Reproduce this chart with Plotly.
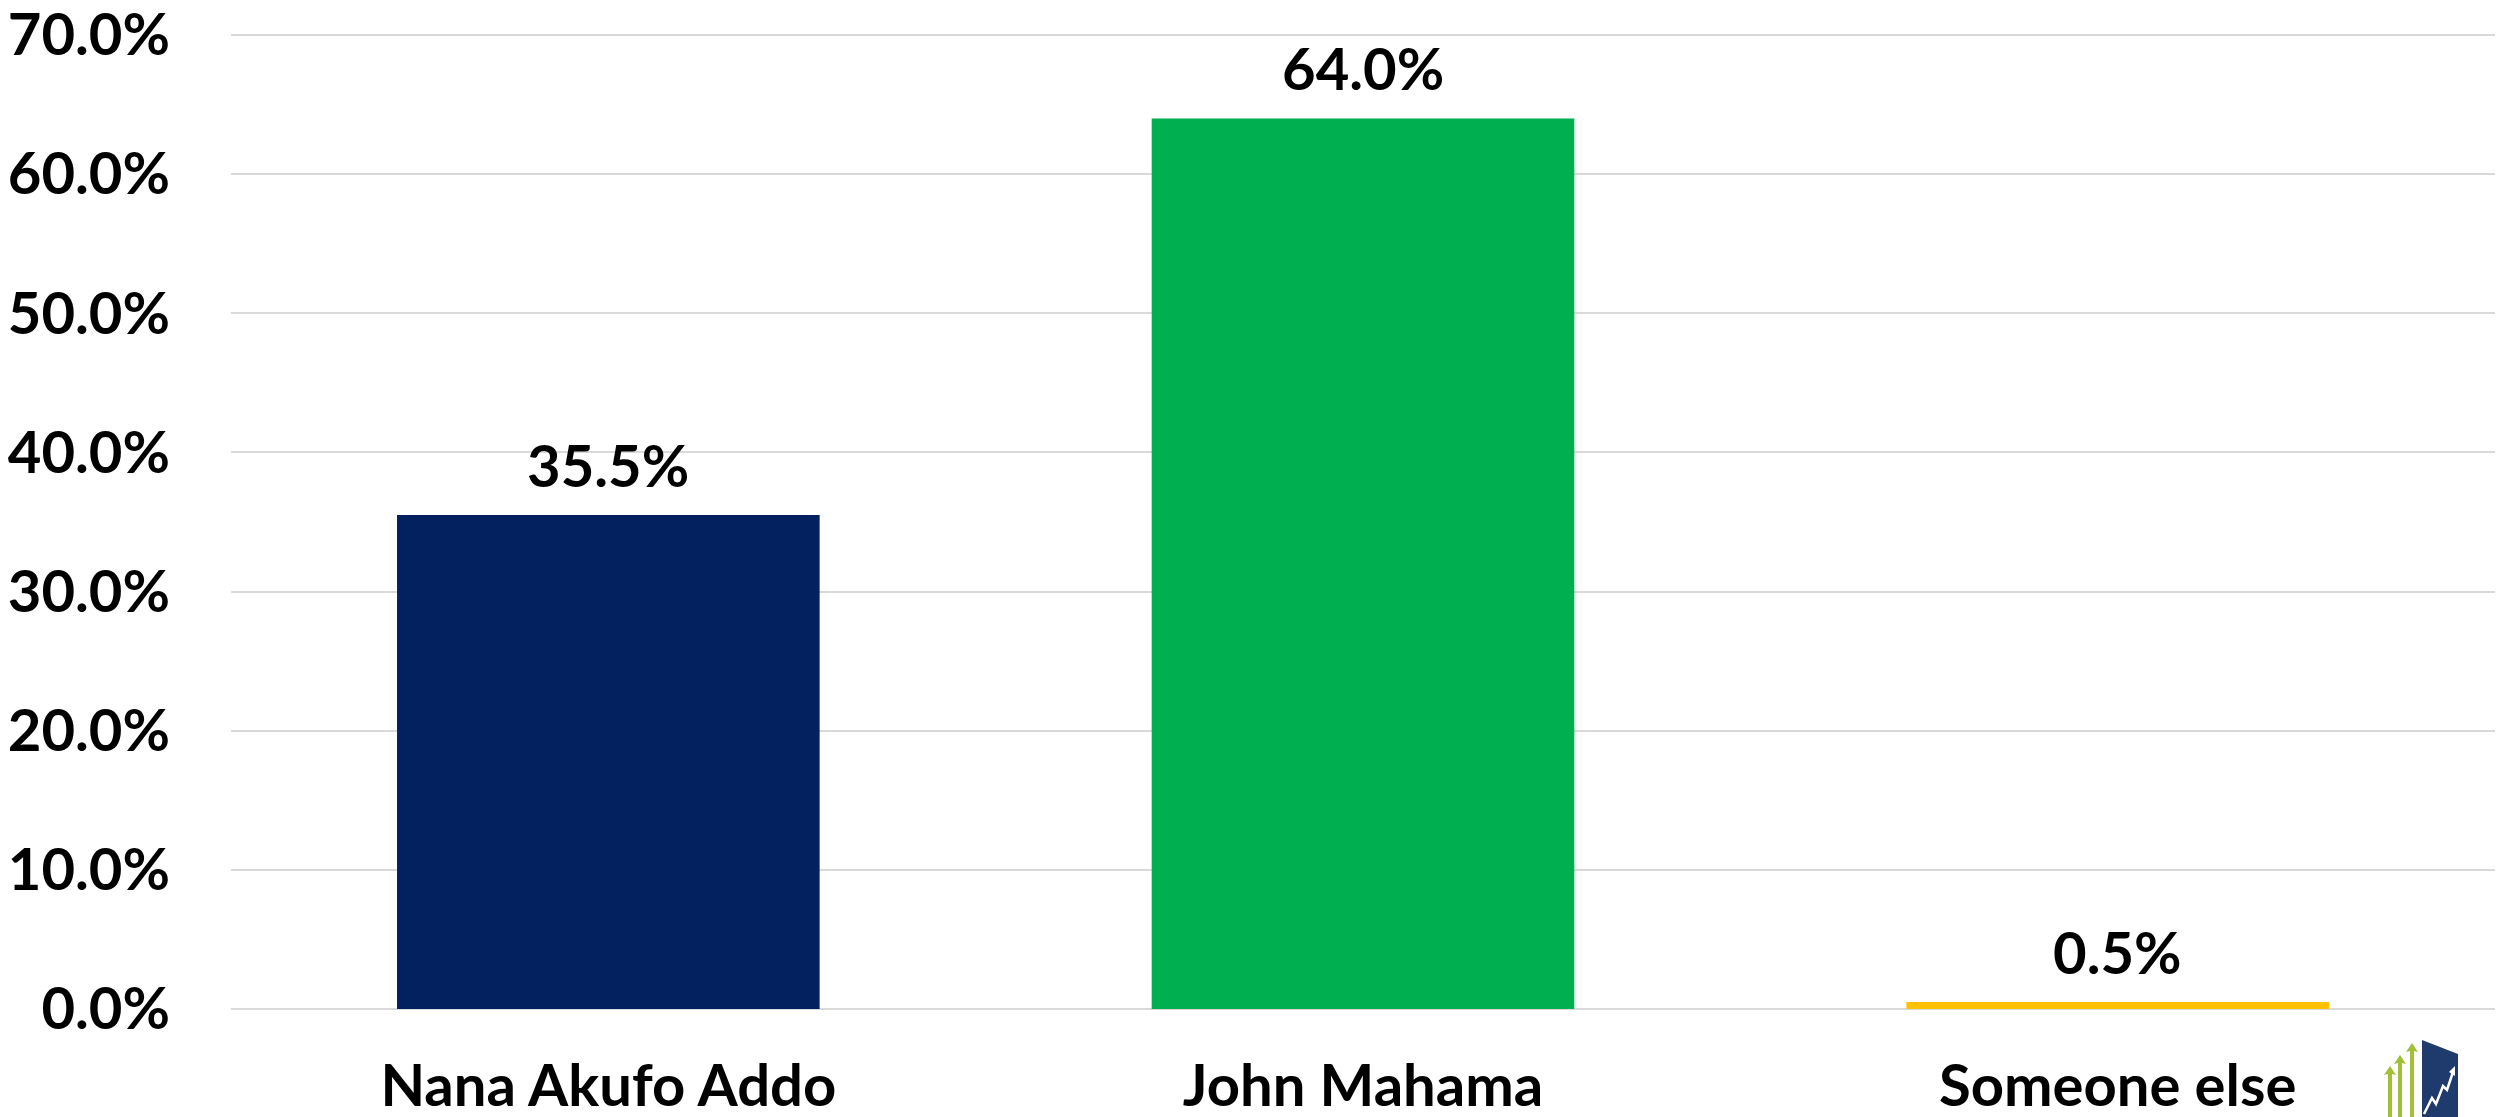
import plotly.graph_objects as go

categories = ["Nana Akufo Addo", "John Mahama", "Someone else"]
values = [35.5, 64.0, 0.5]
bar_colors = ["#03215F", "#00B050", "#FFC000"]
y_ticks = [0, 10, 20, 30, 40, 50, 60, 70]
y_tick_labels = ["0.0%", "10.0%", "20.0%", "30.0%", "40.0%", "50.0%", "60.0%", "70.0%"]

W, H = 2503, 1117
ML, MR, MT, MB = 231, 8, 21, 108
PW, PH = W - ML - MR, H - MT - MB
YMAX = 71

FONT = dict(family="Lato", size=58, color="#000000", weight=700)

fig = go.Figure()
fig.add_trace(go.Bar(
    x=categories, y=values, marker=dict(color=bar_colors, line=dict(width=0)),
    width=0.56, showlegend=False, hoverinfo="skip",
))

for c, v in zip(categories, values):
    fig.add_annotation(x=c, y=v, text=f"{v:.1f}%", showarrow=False,
                       yanchor="bottom", yshift=14, font=FONT)

def px(x, y):
    return ((x - ML) / PW, (MT + PH - y) / PH)

def path(points):
    s = ""
    for i, (x, y) in enumerate(points):
        u, v = px(x, y)
        s += ("M" if i == 0 else "L") + f"{u:.5f},{v:.5f} "
    return s + "Z"

def line_path(points):
    s = ""
    for i, (x, y) in enumerate(points):
        u, v = px(x, y)
        s += ("M" if i == 0 else "L") + f"{u:.5f},{v:.5f} "
    return s

shapes = []
green = "#A2C037"
for (cx, top) in [(2390, 1066), (2400, 1055), (2412, 1043)]:
    pts = [(cx - 2, 1117), (cx - 2, top + 8), (cx - 6, top + 9), (cx, top),
           (cx + 6, top + 9), (cx + 2, top + 8), (cx + 2, 1117)]
    shapes.append(dict(type="path", xref="paper", yref="paper", path=path(pts),
                       fillcolor=green, line=dict(width=0), layer="above"))
shapes.append(dict(type="path", xref="paper", yref="paper",
                   path=path([(2422, 1040), (2458, 1054), (2458, 1117), (2422, 1117)]),
                   fillcolor="#1F3B6E", line=dict(width=0), layer="above"))
shapes.append(dict(type="path", xref="paper", yref="paper",
                   path=line_path([(2424, 1114), (2432, 1098), (2436, 1104), (2443, 1086),
                                   (2447, 1090), (2453, 1072)]),
                   line=dict(color="white", width=2.5), layer="above"))
shapes.append(dict(type="path", xref="paper", yref="paper",
                   path=path([(2449, 1072), (2455, 1066), (2455, 1076)]),
                   fillcolor="white", line=dict(width=0), layer="above"))

fig.update_layout(
    width=W, height=H,
    margin=dict(l=ML, r=MR, t=MT, b=MB, pad=0, autoexpand=False),
    paper_bgcolor="white", plot_bgcolor="white",
    bargap=0.44,
    shapes=shapes,
    xaxis=dict(showgrid=False, showline=False, zeroline=False, ticks="",
               tickfont=FONT, ticklabelstandoff=38, fixedrange=True,
               automargin=False),
    yaxis=dict(range=[0, YMAX], tickvals=y_ticks, ticktext=y_tick_labels,
               showgrid=True, gridcolor="#D9D9D9", gridwidth=2,
               zeroline=True, zerolinecolor="#D9D9D9", zerolinewidth=2,
               showline=False, ticks="", tickfont=FONT, ticklabelstandoff=60,
               ticklabeloverflow="allow", fixedrange=True, automargin=False),
)

fig.write_html("out.html", config={"displayModeBar": False},
               post_script="document.body.style.margin='0';document.body.style.overflow='hidden';")
